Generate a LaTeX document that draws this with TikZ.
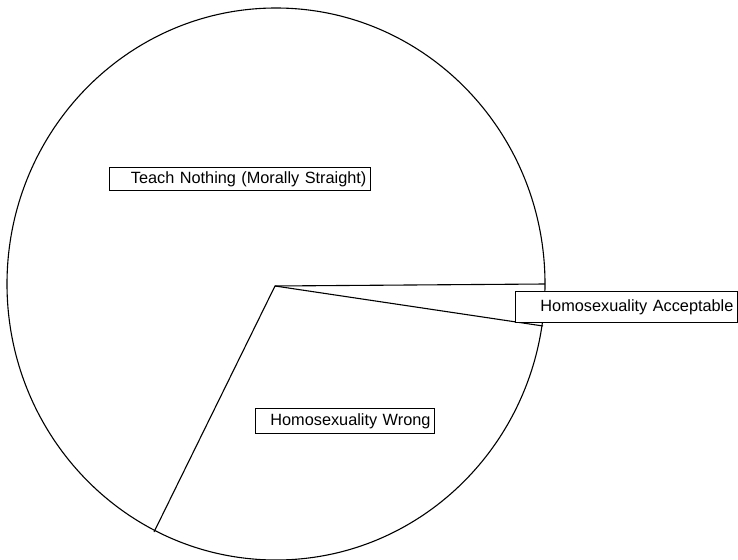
\documentclass[tikz,border=0pt]{standalone}
\usepackage{fontspec}
\setmainfont{Liberation Sans}
\begin{document}
\begin{tikzpicture}[x=1pt,y=-1pt, line width=1.1pt,
  lbl/.style={draw, fill=white, inner xsep=4pt, inner ysep=0pt, anchor=north west,
    align=right, font=\fontsize{16.3}{18}\selectfont, line width=0.9pt}]
\useasboundingbox (0,0) rectangle (738,559);
\coordinate (O) at (275,286);
\coordinate (A) at (545,284);
\coordinate (B) at (543,326);
\coordinate (C) at (154,532);
\draw (276,284) ellipse [x radius=269pt, y radius=276pt];
\draw (A) -- (O) -- (C);
\draw (O) -- (B);
\node[lbl, text width=253pt, minimum height=23pt] (tn) at (109,167) {Teach Nothing (Morally Straight)};
\node[lbl, text width=171pt, minimum height=25pt] (hw) at (255,408) {Homosexuality Wrong};
\node[lbl, text width=214pt, minimum height=31pt] (ha) at (515,291) {Homosexuality Acceptable};
\end{tikzpicture}
\end{document}
